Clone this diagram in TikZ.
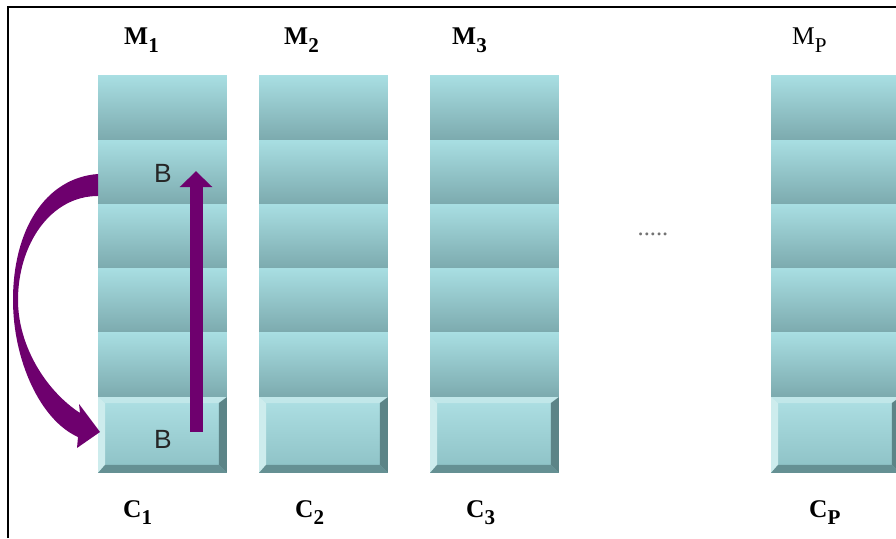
\documentclass[tikz,border=0pt]{standalone}
\usepackage{fontspec}
\setmainfont{Liberation Serif}
\newfontfamily\keyfont{Liberation Sans}
\usepackage{tikz}
\usetikzlibrary{arrows.meta,calc}

\definecolor{celltop}{RGB}{168,222,226}
\definecolor{cellbot}{RGB}{124,170,174}
\definecolor{facetop}{RGB}{174,224,228}
\definecolor{facebot}{RGB}{140,192,196}
\definecolor{bevlite}{RGB}{205,236,237}
\definecolor{bevdark}{RGB}{92,132,135}
\definecolor{arrowpurple}{RGB}{110,0,110}

\newcommand{\sublbl}[2]{#1\raisebox{-4.5pt}{\fontsize{12}{12}\selectfont #2}}

\begin{document}
\begin{tikzpicture}[x=0.02cm, y=0.02cm,
    cell/.style={anchor=north west, minimum width=2.58cm, minimum height=1.284cm,
        inner sep=0pt, outer sep=0pt, top color=celltop, bottom color=cellbot},
    ccell/.style={cell, minimum height=1.52cm, top color=facetop, bottom color=facebot},
    collabel/.style={anchor=base west, font=\fontsize{14.5}{16}\selectfont\bfseries},
    keylabel/.style={anchor=base, font=\keyfont\fontsize{15}{18}\selectfont, text=black!85},
    move/.style={line width=7.4pt, arrowpurple, -{Triangle[width=18pt,length=9pt]}}]
        \useasboundingbox (0,0) rectangle (896,538);
        \clip (0,0) rectangle (896,538);

        % Frame
        \draw[line width=1.2pt] (8,0) -- (8,531) -- (896,531);

        % Memory columns
        \foreach \c/\x in {1/98, 2/259, 3/430, P/771} {
            \foreach \r in {1,...,5}
                \node[cell] (m\c-\r) at (\x, {462-(\r-1)*64.2}) {};
            \node[ccell] (m\c-c) at (\x, 141) {};
            % bevel of the bottom cell
            \fill[bevlite!60!facetop] (m\c-c.north west) -- (m\c-c.north east)
                -- ($(m\c-c.north east)+(-8,-6)$) -- ($(m\c-c.north west)+(7,-6)$) -- cycle;
            \fill[bevlite] (m\c-c.north west) -- (m\c-c.south west)
                -- ($(m\c-c.south west)+(7,8)$) -- ($(m\c-c.north west)+(7,-6)$) -- cycle;
            \fill[bevdark] (m\c-c.north east) -- (m\c-c.south east)
                -- ($(m\c-c.south east)+(-8,8)$) -- ($(m\c-c.north east)+(-8,-6)$) -- cycle;
            \fill[bevdark!80!facebot] (m\c-c.south west) -- (m\c-c.south east)
                -- ($(m\c-c.south east)+(-8,8)$) -- ($(m\c-c.south west)+(7,8)$) -- cycle;
        }

        % Column labels
        \node[collabel] (lm1) at (118,493) {\sublbl{M}{1}};
        \node[collabel] (lm2) at (278,493) {\sublbl{M}{2}};
        \node[collabel] (lm3) at (446,493) {\sublbl{M}{3}};
        \node[collabel, font=\fontsize{14.5}{16}\selectfont] (lmp) at (786,493) {\sublbl{M}{P}};
        \node[collabel] (lc1) at (117,21) {\sublbl{C}{1}};
        \node[collabel] (lc2) at (289,21) {\sublbl{C}{2}};
        \node[collabel] (lc3) at (460,21) {\sublbl{C}{3}};
        \node[collabel] (lcp) at (803,21) {\sublbl{C}{P}};
        \node[anchor=base, font=\fontsize{14}{16}\selectfont, text=black!55] (dots) at (653,302) {.....};

        % Block B
        \node[keylabel] (kb1) at (163,355) {B};
        \node[keylabel] (kb2) at (163,90) {B};

        % Moves
        \draw[move] ($(m1-c.south west)+(98,41)$) -- ($(m1-2.north west)+(98,-31)$);
        \fill[arrowpurple] ($(m1-2.west)+(0,-1.7)$)
            .. controls (45,360) and (13,308) .. (13,238)
            .. controls (13,178) and (40,118) .. (78,101)
            -- (77,90) -- ($(m1-c.west)+(2,3)$) -- (79,134) -- (80,125)
            .. controls (45,148) and (18,193) .. (18,238)
            .. controls (18,293) and (50,342) .. ($(m1-2.west)+(0,-23.7)$) -- cycle;
\end{tikzpicture}
\end{document}
